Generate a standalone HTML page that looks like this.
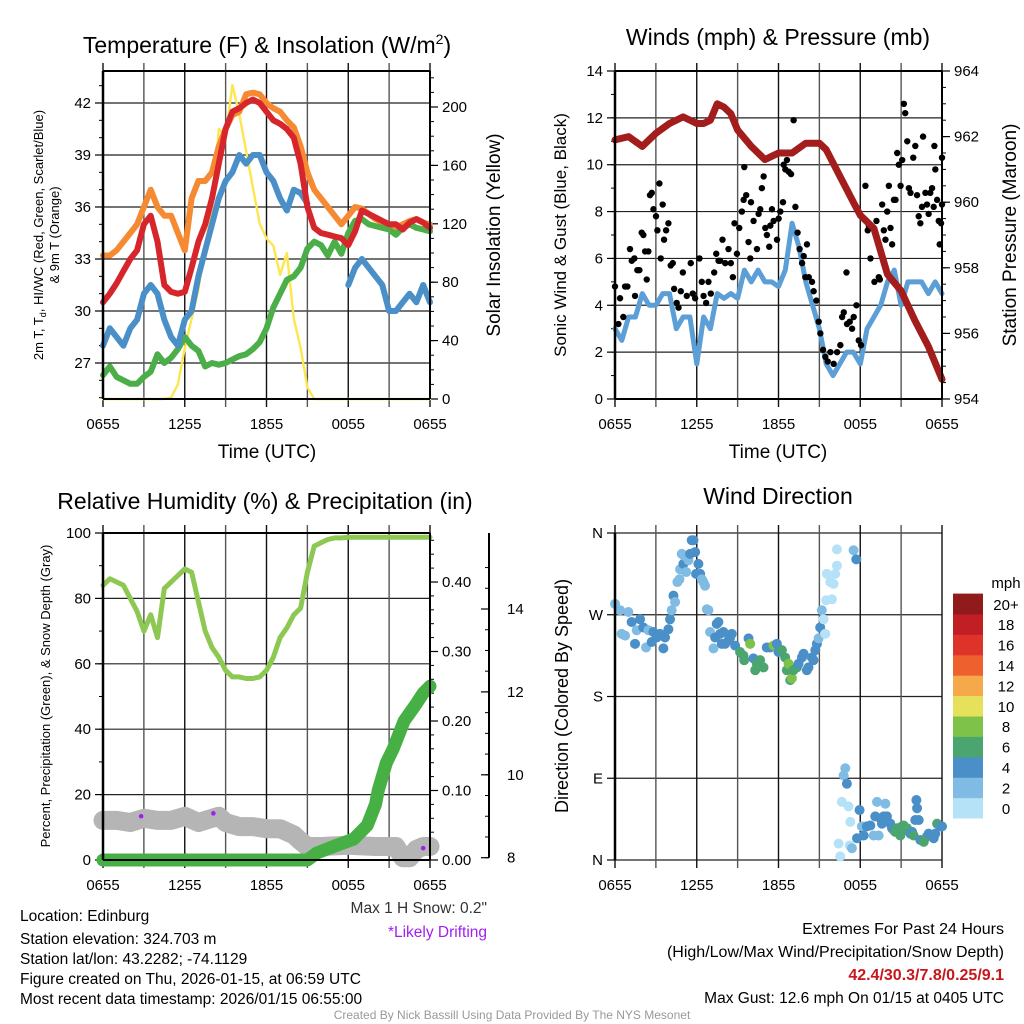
<!DOCTYPE html>
<html><head><meta charset="utf-8">
<style>
html,body{margin:0;padding:0;background:#fff;}
svg{display:block;font-family:"Liberation Sans",sans-serif;}
</style></head>
<body>
<svg id="c" width="1024" height="1024" viewBox="0 0 1024 1024" xmlns="http://www.w3.org/2000/svg">
<g font-size="23" text-anchor="middle" fill="#000">
<text x="267" y="53">Temperature (F) &amp; Insolation (W/m<tspan dy="-9" font-size="14">2</tspan><tspan dy="9">)</tspan></text>
<text x="778" y="45">Winds (mph) &amp; Pressure (mb)</text>
<text x="265" y="509">Relative Humidity (%) &amp; Precipitation (in)</text>
<text x="778" y="504">Wind Direction</text>
</g>
<g fill="#000">
<text x="267" y="458" font-size="19" text-anchor="middle">Time (UTC)</text>
<text x="778" y="458" font-size="19" text-anchor="middle">Time (UTC)</text>
<text transform="translate(43,235) rotate(-90)" font-size="13" text-anchor="middle">2m T, T<tspan font-size="9" dy="3">d</tspan><tspan dy="-3">, HI/WC (Red, Green, Scarlet/Blue)</tspan></text>
<text transform="translate(59,235) rotate(-90)" font-size="13" text-anchor="middle">&amp; 9m T (Orange)</text>
<text transform="translate(500,235) rotate(-90)" font-size="19" text-anchor="middle">Solar Insolation (Yellow)</text>
<text transform="translate(566,235) rotate(-90)" font-size="17" text-anchor="middle">Sonic Wind &amp; Gust (Blue, Black)</text>
<text transform="translate(1016,235) rotate(-90)" font-size="19" text-anchor="middle">Station Pressure (Maroon)</text>
<text transform="translate(50,696) rotate(-90)" font-size="13" text-anchor="middle">Percent, Precipitation (Green), &amp; Snow Depth (Gray)</text>
<text transform="translate(568,696) rotate(-90)" font-size="18" text-anchor="middle">Direction (Colored By Speed)</text>
</g>
<g id="plots"></g>
<g font-size="15.5" fill="#000">
<text x="20" y="921">Location: Edinburg</text>
<text x="20" y="944">Station elevation: 324.703 m</text>
<text x="20" y="964">Station lat/lon: 43.2282; -74.1129</text>
<text x="20" y="984">Figure created on Thu, 2026-01-15, at 06:59 UTC</text>
<text x="20" y="1004">Most recent data timestamp: 2026/01/15 06:55:00</text>
<text x="487" y="913" text-anchor="end" fill="#333">Max 1 H Snow: 0.2"</text>
<text x="487" y="937" text-anchor="end" fill="#a020f0">*Likely Drifting</text>
<text x="1004" y="934" text-anchor="end" font-size="16">Extremes For Past 24 Hours</text>
<text x="1004" y="957" text-anchor="end" font-size="16">(High/Low/Max Wind/Precipitation/Snow Depth)</text>
<text x="1004" y="980" text-anchor="end" font-size="16" font-weight="bold" fill="#c8161d">42.4/30.3/7.8/0.25/9.1</text>
<text x="1004" y="1003" text-anchor="end">Max Gust: 12.6 mph On 01/15 at 0405 UTC</text>
<text x="512" y="1019" text-anchor="middle" font-size="12" fill="#999">Created By Nick Bassill Using Data Provided By The NYS Mesonet</text>
</g>
</svg>
<script>
// ---------- DATA ----------
const timeLabels = ["0655","1255","1855","0055","0655"];
const halfHours = [0,0.5,1,1.5,2,2.5,3,3.5,4,4.5,5,5.5,6,6.5,7,7.5,8,8.5,9,9.5,10,10.5,11,11.5,12,12.5,13,13.5,14,14.5,15,15.5,16,16.5,17,17.5,18,18.5,19,19.5,20,20.5,21,21.5,22,22.5,23,23.5,24];
const tempRed = [30.5,31,31.6,32.3,33,33.5,35,35.5,34,31.5,31.1,31,31.1,32.5,34,35,36.5,38.5,40.5,41.5,41.7,42,42.2,42,41.5,41,40.8,40.5,40,38.5,36,34.8,34.5,34.4,34.3,34.2,33.8,34.6,35.8,35.6,35.4,35.2,35,35,34.7,35.1,35.3,35.1,34.8];
const tempOrange = [33.2,33.2,33.5,34,34.5,35,36,37,36,35.5,35.5,34.5,33.5,36.5,37.5,37.5,38,39.5,40.5,41.3,41.5,42.5,42.6,42.5,42,41.7,41.5,41,40.6,39.5,38,37,36.5,36,35.5,35,35.5,36,35.9,35.6,35.3,35.1,35,34.8,35,35.2,35.3,35.1,35];
const tempBlue = [28,29,28.5,28,29,29.5,31,31.5,31,29.5,28.5,28,29.5,30,32,33.5,35,36.5,37.5,38,39,38.5,39,39,38,37.5,36.5,35.8,37,36.8,36.2,null,null,null,null,null,31.5,32.5,33,32.5,32,31.5,30,30,30.5,31,30.5,31.5,30.5];
const tempGreen = [26.3,26.8,26.2,26,25.8,25.8,26.2,26.5,27.5,27,27.3,27.8,28.5,28,27.7,26.8,27,26.9,27,27.2,27.4,27.5,27.8,28.2,29,30.2,31,31.8,32,32.5,33.6,34,33.8,33.2,34,33.3,34.5,35.2,35.3,35,34.9,34.8,34.7,34.4,34.8,35,34.8,34.7,34.6];
const solar = [0,0,0,0,0,0,0,0,0,0,1,10,35,55,75,105,130,185,180,215,195,170,145,120,110,105,85,100,55,35,8,0,0,0,0,0,0,0,0,0,0,0,0,0,0,0,0,0,0];
const windSust = [3,2.5,3.5,3.5,4.5,4,4,4.5,4.5,3,3.5,3.5,1.5,3.5,3,4.5,4.3,4.5,4.3,5.5,5,5.5,5,5,4.8,5.5,7.5,6.5,5,4,3,1.5,1,1.5,2,2,1.5,3,3.5,4,5,5.5,4,5,5,5,4.5,5,4.5];
const pressTimes = [0,1,2,3,4,5,6,6.5,7,7.5,8,8.5,9,10,11,11.5,12,13,14,15,15.5,16,16.5,17,17.5,18,19,19.5,20,21,22,23,24];
const pressure = [961.9,962,961.7,962.1,962.4,962.6,962.4,962.4,962.5,963,962.9,962.7,962.2,961.7,961.3,961.4,961.5,961.5,961.8,961.8,961.6,961.2,960.8,960.4,960,959.6,959.2,958.5,957.8,957.3,956.4,955.6,954.6];
const gustTimes = [0,0.25,0.37,0.61,0.74,0.91,1.1,1.23,1.42,1.47,1.64,1.79,1.96,2.08,2.21,2.33,2.45,2.57,2.7,2.82,3.01,3.11,3.26,3.36,3.5,3.6,3.75,3.92,4.09,4.24,4.34,4.53,4.66,4.83,4.98,5.27,5.56,5.71,5.88,6.2,6.37,6.5,6.69,6.86,7.03,7.28,7.43,7.6,7.72,7.89,8.09,8.33,8.5,8.65,8.77,8.95,9.12,9.31,9.44,9.49,9.63,9.8,9.93,9.98,10.17,10.42,10.54,10.66,10.78,10.91,11.03,11.15,11.32,11.4,11.52,11.64,11.89,12.01,12.13,12.33,12.38,12.5,12.62,12.75,12.92,13.11,13.24,13.4,13.55,13.73,13.85,13.97,14.09,14.22,14.46,14.58,14.78,14.95,15.07,15.27,15.44,15.61,15.81,16.05,16.3,16.54,16.67,16.79,16.99,17.03,17.23,17.4,17.52,17.72,17.89,18.06,18.38,18.55,18.63,18.75,18.87,19.04,19.19,19.36,19.44,19.61,19.73,19.85,19.98,20.1,20.22,20.34,20.47,20.59,20.71,20.83,20.96,21.08,21.2,21.3,21.45,21.57,21.69,21.89,22.04,22.17,22.29,22.41,22.53,22.61,22.78,22.9,23.02,23.14,23.27,23.39,23.44,23.51,23.64,23.76,23.83,23.93,24,24];
const gustValues = [4.8,3.2,4.3,3.5,4.8,4.8,6.4,5.9,6,4.4,5.5,5.5,7.1,7,6.3,5.1,6.3,8.7,8.8,8.1,7.8,7.2,9.2,6,8.3,6.8,7.2,7.5,5.7,5.8,4.7,4.1,3.9,4.6,5.4,4.4,5.8,4.5,4.3,6,5,4.4,4.1,5,4.5,5.4,6.2,5.9,5.9,6.8,5.8,6.4,5.8,5.2,7.5,6.2,7.3,8,8.5,9.9,8.7,6.7,6,8.4,7.6,6.4,7.9,8.1,9,9.5,7.3,7,6.5,7.4,8.1,7.6,6.8,7.7,8,8.4,10,9.8,10.2,9.7,9.6,11.9,8.2,7.1,6.4,5.8,6.1,5.2,6.6,5.2,5,4.6,4.2,3.3,2.8,2.1,1.8,1.6,2,1.5,2,2.3,3.5,3.7,5.4,3.2,3.3,3,3.5,4,2.5,2.3,9.1,7.2,7.4,6,7.3,5,7.6,5.2,5.1,8.3,7.2,6.8,8,9.1,7.3,6.6,8.5,8.5,10.5,10,9.1,10.2,12.6,12.2,11,9,8.8,10.3,10.8,8.7,7.8,7.5,8.2,11.2,8.8,8.3,7.9,8.8,9,8.2,10.8,9.8,8.5,7.6,6.6,7.5,10.3,8.3];
const rh = [84,86,85,84,80,76,70,75,68,83,85,87,89,88,79,70,65,62,58,56,56,55.5,55.5,56,58,62,68,71,75,77,88,96,97,98,98.5,98.5,98.7,98.7,98.7,98.7,98.7,98.7,98.7,98.7,98.7,98.7,98.7,98.7,98.7];
const precipTimes = [0,15,15.7,17,18.4,19.4,20,20.2,20.8,21.3,22.1,23,23.5,24];
const precip = [0,0,0.01,0.02,0.03,0.05,0.08,0.1,0.14,0.16,0.2,0.225,0.24,0.25];
const snowTimes = [0,1,2,3,4,5,6,7,8,8.5,9,10,11,12,13,14,14.5,15,16,18,20,21,21.5,22,22.5,23,23.5,24];
const snowDepth = [8.9,8.9,8.85,8.95,8.9,8.9,9.0,8.85,8.95,9.0,8.85,8.75,8.75,8.7,8.7,8.55,8.4,8.27,8.27,8.3,8.27,8.27,8.27,8.0,8.0,8.2,8.27,8.27];
const driftTimes = [2.8,8.1,23.5];
const driftValues = [9.0,9.07,8.23];
const dirTimes = [0,0.37,0.49,0.74,0.98,1.22,1.47,1.59,1.84,2.08,2.28,2.45,2.69,2.82,3.06,3.31,3.55,3.67,3.92,4.04,4.16,4.29,4.41,4.58,4.73,4.78,4.9,5.02,5.07,5.22,5.39,5.51,5.63,5.76,5.88,5.95,6.12,6.25,6.37,6.49,6.61,6.74,6.86,6.98,7.23,7.35,7.47,7.59,7.72,7.84,7.96,8.08,8.33,8.45,8.57,8.82,9.18,9.43,9.48,9.8,9.92,10.16,10.29,10.41,10.65,10.9,11.14,11.39,11.63,11.88,12,12.25,12.49,12.61,12.74,12.86,12.98,13.1,13.35,13.47,13.72,13.84,14.08,14.2,14.45,14.57,14.7,14.82,14.94,15.06,15.18,15.31,15.43,15.5,15.55,15.8,15.92,16.04,16.16,16.29,16.29,16.41,16.53,16.65,16.78,16.9,17.02,17.14,17.22,17.27,17.39,17.51,17.71,17.76,17.95,18.12,18.25,18.49,18.74,18.98,19.1,19.23,19.35,19.47,19.59,19.72,19.84,19.96,20.21,20.33,20.45,20.57,20.7,20.94,21.06,21.19,21.31,21.43,21.68,21.8,21.92,22.04,22.12,22.17,22.29,22.41,22.66,22.9,23.02,23.27,23.39,23.51,23.64,23.88,24];
const dirDegrees = [282,275,249,247,273,262,238,253,265,256,234,253,240,251,245,249,233,245,254,265,275,291,284,306,309,320,337,326,335,317,330,337,352,352,339,315,326,315,309,306,302,276,275,251,233,245,260,262,249,238,251,238,242,245,249,236,229,225,220,244,238,222,209,216,220,212,234,234,236,238,229,231,223,209,216,198,200,209,212,216,223,227,209,212,223,220,231,238,244,256,275,265,249,286,315,306,287,304,315,342,324,18,4,64,93,101,84,59,16,42,13,341,331,24,55,37,27,37,38,27,48,64,27,46,40,48,62,48,40,35,33,31,35,27,37,38,33,35,29,31,27,44,66,57,44,22,20,26,29,27,24,29,40,37,37];
const dirSpeeds = [2.5,2.5,2.5,2.5,2.5,4,4,2.5,4,4,2.5,2.5,4,4,4,4,4,4,4,4,2.5,4,2.5,2.5,2.5,2.5,2.5,4,2.5,2.5,2.5,4,4,4,4,4,4,4,2.5,2.5,2.5,2.5,2.5,2.5,2.5,4,4,4,4,4,4,4,4,4,4,4,6,6,6,4,8,4,6,6,6,6,4,4,8,4,4,6,6,6,8,6,8,6,6,4,4,4,4,4,4,4,4,4,2.5,4,2.5,1,1,1,1,1,1,1,1,1,1,1,1,1,2.5,2.5,4,1,1,1,2.5,2.5,4,4,4,2.5,4,4,4,2.5,4,2.5,2.5,4,4,4,2.5,4,4,4,4,6,6,6,6,6,6,6,4,4,6,4,4,4,4,4,6,6,4,4,4,4,6,4,4,4];
const speedBins = [0,2,4,6,8,10,12,14,16,18,20];
const speedLabels = ["0","2","4","6","8","10","12","14","16","18","20+"];
const speedColors = ["#b5e2f6","#7fbbe3","#4a8fc7","#4aa56e","#7ec24a","#e6e15a","#f5a94a","#ee612f","#dd3328","#c11e26","#911a1b"];

// ---------- HELPERS ----------
const NS="http://www.w3.org/2000/svg";
const root=document.getElementById('plots');
function mk(tag,attrs,parent){const e=document.createElementNS(NS,tag);for(const k in attrs)e.setAttribute(k,attrs[k]);(parent||root).appendChild(e);return e;}
function txt(s,attrs,parent){const e=mk('text',attrs,parent);e.textContent=s;return e;}
function lin(d0,d1,r0,r1){return v=>r0+(v-d0)/(d1-d0)*(r1-r0);}
function pathD(ts,vs,xf,yf){let d="",pen=false;for(let i=0;i<ts.length;i++){if(vs[i]===null||vs[i]===undefined){pen=false;continue;}d+=(pen?"L":"M")+xf(ts[i]).toFixed(1)+","+yf(vs[i]).toFixed(1);pen=true;}return d;}

function panelFrame(g,x0,x1,y0,y1,yTicks,yf,labelFmt,minorStep,yRange,name){
  yTicks.forEach(v=>{const l=mk('line',{x1:x0,x2:x1,y1:yf(v),y2:yf(v),stroke:"#222","stroke-width":1.2},g);
    
    
    mk('line',{x1:x0-8,x2:x0,y1:yf(v),y2:yf(v),stroke:"#000","stroke-width":1.2},g);
    const t=txt(labelFmt(v),{x:x0-12,y:yf(v)+5,"font-size":15,"text-anchor":"end"},g);
    
    
  });
  if(minorStep){for(let v=yRange[0];v<=yRange[1]+1e-9;v+=minorStep){const y=yf(v);if(y<y0-0.5||y>y1+0.5)continue;mk('line',{x1:x0-4,x2:x0,y1:y,y2:y,stroke:"#000","stroke-width":1},g);}}
  for(let h=0;h<=24;h+=3){const x=x0+h/24*(x1-x0);
    const l=mk('line',{x1:x,x2:x,y1:y0-8,y2:y1+8,stroke:(h%6==0)?"#111":"#555","stroke-width":1.4},g);
    
    
  }
  timeLabels.forEach((s,i)=>{const x=x0+i*6/24*(x1-x0);const t=txt(s,{x:x,y:y1+30,"font-size":15,"text-anchor":"middle"},g);
    
    
  });
}
function frameBox(g,x0,x1,y0,y1){mk('line',{x1:x0,x2:x0,y1:y0,y2:y1,stroke:"#000","stroke-width":2.5},g);mk('line',{x1:x1,x2:x1,y1:y0,y2:y1,stroke:"#000","stroke-width":2},g);mk('line',{x1:x0,x2:x1,y1:y0,y2:y0,stroke:"#000","stroke-width":2},g);mk('line',{x1:x0,x2:x1,y1:y1,y2:y1,stroke:"#000","stroke-width":2},g);}
function rightAxis(g,x1,ticks,yf,fmt,minorStep,range,y0,y1,name){
  ticks.forEach(v=>{mk('line',{x1:x1,x2:x1+8,y1:yf(v),y2:yf(v),stroke:"#000","stroke-width":1.2},g);
    const t=txt(fmt(v),{x:x1+12,y:yf(v)+5,"font-size":15},g);
    
    });
  for(let v=range[0];v<=range[1]+1e-9;v+=minorStep){const y=yf(v);if(y<y0-0.5||y>y1+0.5)continue;mk('line',{x1:x1,x2:x1+4,y1:y,y2:y,stroke:"#000","stroke-width":1},g);}
}
function series(g,ts,vs,xf,yf,color,w,name){const p=mk('path',{d:pathD(ts,vs,xf,yf),fill:"none",stroke:color,"stroke-width":w,"stroke-linejoin":"round","stroke-linecap":"round"},g);
  
  return p;}

// ---------- PANEL 1: Temperature ----------
(function(){
  const g=mk('g',{});
  
  
  const x0=103,x1=430,y0=71,y1=399;
  const xf=lin(0,24,x0,x1);
  const yT=lin(42,27,103,363);
  const yS=lin(0,200,399,107);
  panelFrame(g,x0,x1,y0,y1,[27,30,33,36,39,42],yT,v=>String(v),1,[25,43],'temp');
  rightAxis(g,x1,[0,40,80,120,160,200],yS,v=>String(v),10,[0,220],y0,y1,'solar');
  series(g,halfHours,solar,xf,yS,"#fde64f",2.4,'solar-insolation-line');
  series(g,halfHours,tempOrange,xf,yT,"#f58a33",6,'temp-9m-line');
  series(g,halfHours,tempGreen,xf,yT,"#4cae48",6,'dewpoint-line');
  series(g,halfHours,tempBlue,xf,yT,"#4a8fc8",6,'windchill-line');
  series(g,halfHours,tempRed,xf,yT,"#d7262b",6,'temp-2m-line');
  frameBox(g,x0,x1,y0,y1);
})();

// ---------- PANEL 2: Winds ----------
(function(){
  const g=mk('g',{});
  
  
  const x0=615,x1=942,y0=71,y1=399;
  const xf=lin(0,24,x0,x1);
  const yW=lin(0,14,399,71);
  const yP=lin(954,964,399,71);
  panelFrame(g,x0,x1,y0,y1,[0,2,4,6,8,10,12,14],yW,v=>String(v),1,[0,14],'wind');
  rightAxis(g,x1,[954,956,958,960,962,964],yP,v=>String(v),0.5,[954,964],y0,y1,'pressure');
  series(g,halfHours,windSust,xf,yW,"#5b9fd6",5,'sustained-wind-line');
  gustTimes.forEach((t,i)=>{const c=mk('circle',{cx:xf(t),cy:yW(gustValues[i]),r:3.2,fill:"#000"},g);
    
    });
  series(g,pressTimes,pressure,xf,yP,"#a31d1d",7,'pressure-line');
  frameBox(g,x0,x1,y0,y1);
})();

// ---------- PANEL 3: RH / Precip / Snow ----------
(function(){
  const g=mk('g',{});
  
  
  const x0=103,x1=430,y0=533,y1=860;
  const xf=lin(0,24,x0,x1);
  const yR=lin(0,100,860,533);
  const yPr=lin(0,0.4,860,582);
  const yS=lin(8,14,857.7,609);
  panelFrame(g,x0,x1,y0,y1,[0,20,40,60,80,100],yR,v=>String(v),10,[0,100],'rh');
  rightAxis(g,x1,[0,0.1,0.2,0.3,0.4],yPr,v=>v.toFixed(2),0.02,[0,0.46],y0,y1,'precip');
  const ax=489;
  mk('line',{x1:ax,x2:ax,y1:533,y2:yS(8),stroke:"#000","stroke-width":2},g);
  [8,10,12,14].forEach(v=>{mk('line',{x1:ax-8,x2:ax,y1:yS(v),y2:yS(v),stroke:"#000","stroke-width":1.2},g);
    const t=txt(String(v),{x:ax+18,y:yS(v)+5,"font-size":15},g);
    
    });
  for(let v=8;v<=15.4;v+=0.5){mk('line',{x1:ax-4,x2:ax,y1:yS(v),y2:yS(v),stroke:"#000","stroke-width":1},g);}
  series(g,snowTimes,snowDepth,xf,yS,"#b5b5b5",19,'snow-depth-line');
  driftTimes.forEach((t,i)=>{const c=mk('circle',{cx:xf(t),cy:yS(driftValues[i]),r:2.3,fill:"#a020f0"},g);
    
    });
  series(g,precipTimes,precip,xf,yPr,"#46b044",13,'precipitation-line');
  series(g,halfHours,rh,xf,yR,"#8dc853",5,'relative-humidity-line');
  frameBox(g,x0,x1,y0,y1);
})();

// ---------- PANEL 4: Wind direction ----------
(function(){
  const g=mk('g',{});
  
  
  const x0=615,x1=942,y0=533,y1=860;
  const xf=lin(0,24,x0,x1);
  const yD=lin(0,360,860,533);
  const names={0:"N",90:"E",180:"S",270:"W",360:"N"};
  panelFrame(g,x0,x1,y0,y1,[0,90,180,270,360],yD,v=>names[v],null,null,'direction');
  dirTimes.forEach((t,i)=>{let k=0;for(let j=0;j<speedBins.length;j++)if(dirSpeeds[i]>=speedBins[j])k=j;
    const c=mk('circle',{cx:xf(t),cy:yD(dirDegrees[i]),r:5,fill:speedColors[k]},g);
    
    });
  mk('line',{x1:x0,x2:x0,y1:y0,y2:y1,stroke:"#000","stroke-width":2.5},g);
  const cb=mk('g',{},g);
  
  
  const h=20.4;
  speedColors.forEach((c,i)=>{const y=818-(i+1)*h;
    const r=mk('rect',{x:953,y:y,width:30,height:h+0.5,fill:c},cb);
    
    
    const t=txt(speedLabels[i],{x:1006,y:y+h/2+6,"font-size":15,"text-anchor":"middle"},cb);
    
    });
  const m=txt("mph",{x:1006,y:588,"font-size":15,"text-anchor":"middle"},cb);
  
  
})();
</script>
</body></html>
